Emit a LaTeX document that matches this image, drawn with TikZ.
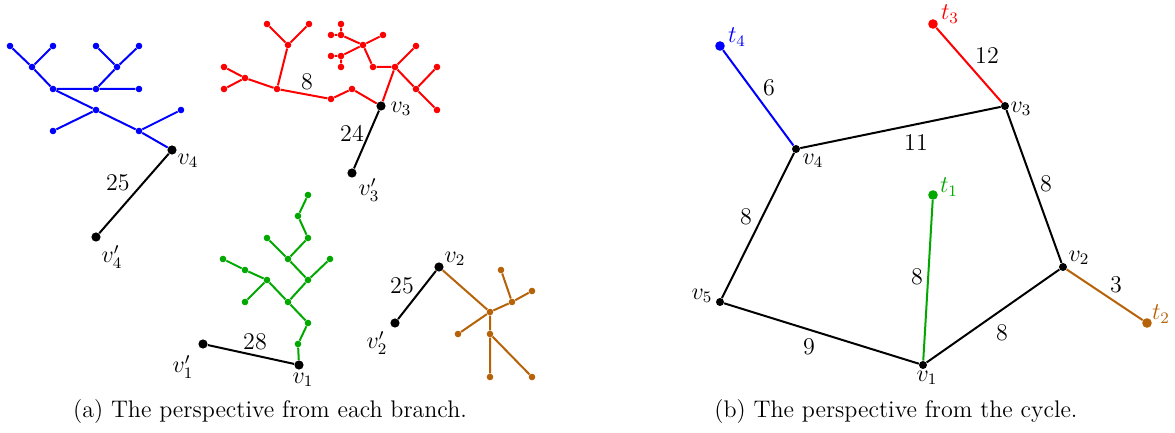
\documentclass[tikz,border=0pt]{standalone}
\usepackage{xcolor}
\definecolor{cblue}{RGB}{0,0,255}
\definecolor{cred}{RGB}{255,0,0}
\definecolor{cgreen}{RGB}{0,168,0}
\definecolor{cbrown}{RGB}{182,98,8}
\begin{document}
\begin{tikzpicture}[x=0.5pt,y=-0.5pt,
  every node/.style={font=\fontsize{12}{14}\selectfont},
  bdot/.style={circle,fill=black,inner sep=0pt,minimum size=4.6pt},
  rdot/.style={circle,fill=black,inner sep=0pt,minimum size=4pt},
  sdot/.style={circle,fill=#1,inner sep=0pt,minimum size=3.3pt},
  tdot/.style={circle,fill=#1,inner sep=0pt,minimum size=4.8pt},
  edge/.style={line width=1pt,draw=#1},
  lbl/.style={inner sep=0pt}]
\useasboundingbox (0,0) rectangle (1175,433);
% ---------------- (a) ----------------
% blue tree
\node[sdot=cblue] (B1) at (10,46) {};
\node[sdot=cblue] (B2) at (53,46) {};
\node[sdot=cblue] (B3) at (96,46) {};
\node[sdot=cblue] (B4) at (139,46) {};
\node[sdot=cblue] (B5) at (32,67) {};
\node[sdot=cblue] (B6) at (117,67) {};
\node[sdot=cblue] (B7) at (53,89) {};
\node[sdot=cblue] (B8) at (96,89) {};
\node[sdot=cblue] (B9) at (139,89) {};
\node[sdot=cblue] (B10) at (96,110) {};
\node[sdot=cblue] (B11) at (181,110) {};
\node[sdot=cblue] (B12) at (53,131) {};
\node[sdot=cblue] (B13) at (139,131) {};
\node[bdot] (a4) at (172,150) {};
\node[bdot] (a4p) at (96,237) {};
\draw[edge=cblue] (B1)--(B5) (B2)--(B5) (B5)--(B7) (B3)--(B6) (B4)--(B6) (B6)--(B8)
  (B7)--(B8) (B8)--(B9) (B7)--(B10) (B10)--(B12) (B10)--(B13) (B13)--(B11) (B13)--(a4);
\draw[edge=black] (a4)--(a4p);
\node[lbl] (la4) at (188,161) {$v_4$};
\node[lbl] (la4p) at (112,257) {$v_4'$};
\node[lbl] (w25a) at (118,183) {25};
% red tree
\node[sdot=cred] (R1) at (267,24) {};
\node[sdot=cred] (R2) at (309,24) {};
\node[sdot=cred] (R3) at (288,45) {};
\node[sdot=cred] (R4) at (224,67) {};
\node[sdot=cred] (R5) at (224,89) {};
\node[sdot=cred] (R6) at (245,78) {};
\node[sdot=cred] (R7) at (277,89) {};
\node[sdot=cred] (R8) at (331,99) {};
\node[sdot=cred] (R9) at (352,89) {};
\node[sdot=cred] (R10) at (341,24) {};
\node[sdot=cred] (R11) at (331,35) {};
\node[sdot=cred] (R12) at (341,35) {};
\node[sdot=cred] (R13) at (383,35) {};
\node[sdot=cred] (R14) at (363,45) {};
\node[sdot=cred] (R15) at (331,56) {};
\node[sdot=cred] (R16) at (341,56) {};
\node[sdot=cred] (R17) at (341,67) {};
\node[sdot=cred] (R18) at (373,67) {};
\node[sdot=cred] (R19) at (395,67) {};
\node[sdot=cred] (R20) at (416,46) {};
\node[sdot=cred] (R21) at (437,67) {};
\node[sdot=cred] (R22) at (416,89) {};
\node[sdot=cred] (R23) at (437,110) {};
\node[bdot] (a3) at (381,106) {};
\node[bdot] (a3p) at (352,173) {};
\draw[edge=cred] (R1)--(R3) (R2)--(R3) (R3)--(R7) (R4)--(R6) (R5)--(R6) (R6)--(R7)
  (R7)--(R8) (R8)--(R9) (R9)--(a3) (a3)--(R19) (R19)--(R18) (R18)--(R14) (R14)--(R13)
  (R14)--(R12) (R12)--(R10) (R12)--(R11) (R14)--(R16) (R16)--(R15) (R16)--(R17)
  (R19)--(R20) (R19)--(R22) (R22)--(R21) (R22)--(R23);
\draw[edge=black] (a3)--(a3p);
\node[lbl] (la3) at (401,109) {$v_3$};
\node[lbl] (la3p) at (369,190) {$v_3'$};
\node[lbl] (w24) at (352,133) {24};
\node[lbl] (w8r) at (307,82) {8};
% green tree
\node[sdot=cgreen] (G1) at (308,195) {};
\node[sdot=cgreen] (G2) at (298,216) {};
\node[sdot=cgreen] (G3) at (308,238) {};
\node[sdot=cgreen] (G4) at (267,238) {};
\node[sdot=cgreen] (G5) at (288,259) {};
\node[sdot=cgreen] (G6) at (330,259) {};
\node[sdot=cgreen] (G7) at (223,259) {};
\node[sdot=cgreen] (G8) at (245,270) {};
\node[sdot=cgreen] (G9) at (267,280) {};
\node[sdot=cgreen] (G10) at (308,280) {};
\node[sdot=cgreen] (G11) at (245,302) {};
\node[sdot=cgreen] (G12) at (288,302) {};
\node[sdot=cgreen] (G13) at (308,323) {};
\node[sdot=cgreen] (G14) at (298,344) {};
\node[bdot] (a1) at (299,365) {};
\node[bdot] (a1p) at (203,344) {};
\draw[edge=cgreen] (G1)--(G2) (G2)--(G3) (G3)--(G5) (G4)--(G5) (G5)--(G10) (G10)--(G6)
  (G10)--(G12) (G7)--(G8) (G8)--(G9) (G9)--(G11) (G9)--(G12) (G12)--(G13) (G13)--(G14) (G14)--(a1);
\draw[edge=black] (a1)--(a1p);
\node[lbl] (la1) at (303,380) {$v_1$};
\node[lbl] (la1p) at (183,367) {$v_1'$};
\node[lbl] (w28) at (255,342) {28};
% brown tree
\node[bdot] (a2) at (439,267) {};
\node[bdot] (a2p) at (395,323) {};
\node[sdot=cbrown] (N1) at (501,270) {};
\node[sdot=cbrown] (N2) at (532,291) {};
\node[sdot=cbrown] (N3) at (512,302) {};
\node[sdot=cbrown] (N4) at (490,312) {};
\node[sdot=cbrown] (N5) at (458,334) {};
\node[sdot=cbrown] (N6) at (490,334) {};
\node[sdot=cbrown] (N7) at (490,377) {};
\node[sdot=cbrown] (N8) at (532,377) {};
\draw[edge=cbrown] (a2)--(N4) (N4)--(N3) (N3)--(N1) (N3)--(N2) (N4)--(N5) (N4)--(N6) (N6)--(N7) (N6)--(N8);
\draw[edge=black] (a2)--(a2p);
\node[lbl] (la2) at (455,259) {$v_2$};
\node[lbl] (la2p) at (377,343) {$v_2'$};
\node[lbl] (w25b) at (402,286) {25};
% ---------------- (b) ----------------
\node[rdot] (c1) at (923,365) {};
\node[rdot] (c2) at (1063,267) {};
\node[rdot] (c3) at (1005,106) {};
\node[rdot] (c4) at (796,149) {};
\node[rdot] (c5) at (720,302) {};
\node[tdot=cgreen] (t1) at (933,195) {};
\node[tdot=cbrown] (t2) at (1147,323) {};
\node[tdot=cred] (t3) at (933,24) {};
\node[tdot=cblue] (t4) at (720,46) {};
\draw[edge=black] (c1)--(c2) (c2)--(c3) (c3)--(c4) (c4)--(c5) (c5)--(c1);
\draw[edge=cgreen] (c1)--(t1);
\draw[edge=cbrown] (c2)--(t2);
\draw[edge=cred] (c3)--(t3);
\draw[edge=cblue] (c4)--(t4);
\node[lbl] (lc1) at (927,378) {$v_1$};
\node[lbl] (lc2) at (1079,258) {$v_2$};
\node[lbl] (lc3) at (1021,109) {$v_3$};
\node[lbl] (lc4) at (813,161) {$v_4$};
\node[lbl] (lc5) at (702,296) {$v_5$};
\node[lbl,text=cgreen] (lt1) at (949,187) {$t_1$};
\node[lbl,text=cbrown] (lt2) at (1161,314) {$t_2$};
\node[lbl,text=cred] (lt3) at (950,14) {$t_3$};
\node[lbl,text=cblue] (lt4) at (737,37) {$t_4$};
\node[lbl] (w6) at (769,88) {6};
\node[lbl] (w12) at (987,56) {12};
\node[lbl] (w11) at (916,143) {11};
\node[lbl] (w8a) at (1046,184) {8};
\node[lbl] (w8b) at (746,217) {8};
\node[lbl] (w8c) at (917,277) {8};
\node[lbl] (w3) at (1116,285) {3};
\node[lbl] (w9) at (809,347) {9};
\node[lbl] (w8d) at (1002,333) {8};
% captions
\node[lbl] (capa) at (270,412) {(a) The perspective from each branch.};
\node[lbl] (capb) at (896,412) {(b) The perspective from the cycle.};
\end{tikzpicture}
\end{document}
